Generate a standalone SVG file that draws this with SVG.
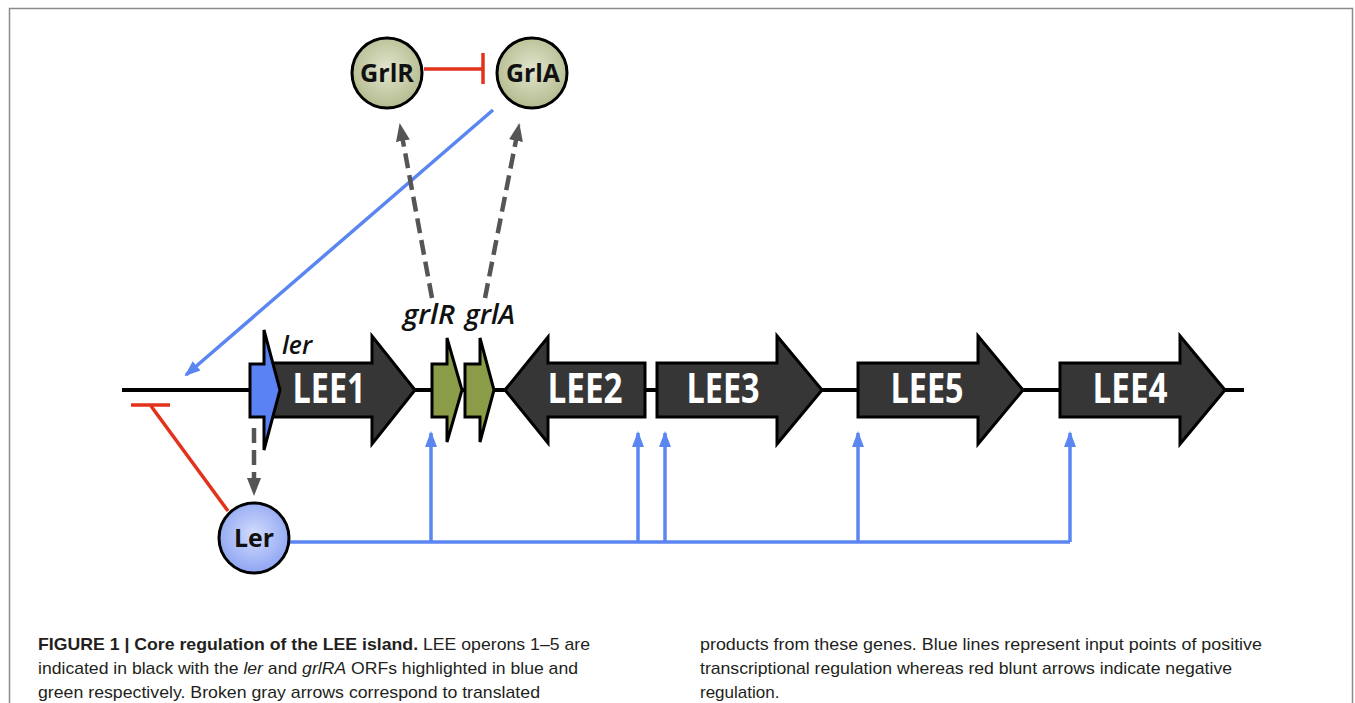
<svg xmlns="http://www.w3.org/2000/svg" width="1355" height="703" viewBox="0 0 1355 703">
<style>
.gene{stroke:#000;stroke-width:3;stroke-linejoin:miter}
.dark{fill:#363636}
.green{fill:#8a9c48}
.blueg{fill:#5b82f4}
.lbl{font-family:"Open Sans","Liberation Sans",sans-serif;font-weight:bold;fill:#fff;font-size:41px}
.ital{font-family:"Open Sans","Liberation Sans",sans-serif;font-weight:600;font-style:italic;fill:#111}
.ntxt{font-family:"Open Sans","Liberation Sans",sans-serif;font-weight:bold;fill:#111;font-size:25px}
.blue{stroke:#5b86f2;stroke-width:3.5;fill:none}
.red{stroke:#e2321c;stroke-width:3.5;fill:none}
.dash{stroke:#555;stroke-width:4.5;stroke-dasharray:15 7;fill:none}
.cap{font-family:"Liberation Sans",Arial,sans-serif;font-size:17px;fill:#231f20}
</style>
<defs>
<radialGradient id="gg" cx="50%" cy="45%" r="55%">
<stop offset="0" stop-color="#e2e5cf"/><stop offset="1" stop-color="#b4bb8e"/>
</radialGradient>
<radialGradient id="bg" cx="50%" cy="45%" r="55%">
<stop offset="0" stop-color="#d3dcfd"/><stop offset="1" stop-color="#8ea5f2"/>
</radialGradient>
<marker id="ab" markerUnits="userSpaceOnUse" markerWidth="16" markerHeight="16" refX="14" refY="8" orient="auto" viewBox="0 0 16 16">
<path d="M0,2 L16,8 L0,14 Z" fill="#5b86f2"/>
</marker>
<marker id="ag" markerUnits="userSpaceOnUse" markerWidth="18" markerHeight="18" refX="16" refY="9" orient="auto" viewBox="0 0 18 18">
<path d="M0,2 L18,9 L0,16 Z" fill="#555"/>
</marker>
</defs>
<rect x="9.5" y="8.5" width="1343" height="720" fill="#fff" stroke="#8a8a8a" stroke-width="1.5"/>

<g id="connectors">
<line x1="122" y1="390" x2="1244" y2="390" stroke="#000" stroke-width="4"/>
<line class="red" x1="424" y1="69" x2="483" y2="69"/>
<line class="red" x1="483" y1="53" x2="483" y2="84" stroke-width="4"/>
<line class="blue" x1="493" y1="110" x2="186" y2="375" marker-end="url(#ab)"/>
<line class="dash" x1="432" y1="298" x2="400" y2="125" marker-end="url(#ag)"/>
<line class="dash" x1="485" y1="298" x2="519" y2="125" marker-end="url(#ag)"/>
<line class="dash" x1="254" y1="428" x2="254" y2="494" marker-end="url(#ag)"/>
<line class="red" x1="228" y1="511" x2="151" y2="406"/>
<line class="red" x1="131" y1="405" x2="170" y2="405" stroke-width="4.5"/>
<polyline class="blue" points="290,542 1070,542"/>
<line class="blue" x1="431" y1="542" x2="431" y2="433" marker-end="url(#ab)"/>
<line class="blue" x1="638" y1="542" x2="638" y2="433" marker-end="url(#ab)"/>
<line class="blue" x1="665" y1="542" x2="665" y2="433" marker-end="url(#ab)"/>
<line class="blue" x1="858" y1="542" x2="858" y2="433" marker-end="url(#ab)"/>
<line class="blue" x1="1070" y1="542" x2="1070" y2="433" marker-end="url(#ab)"/>
</g>

<g id="lee1">
<polygon class="gene dark" points="266,363 372,363 372,336 415,390 372,444 372,417 266,417"/>
<text class="lbl" x="329" y="403" text-anchor="middle" textLength="73" lengthAdjust="spacingAndGlyphs">LEE1</text>
</g>
<g id="ler-gene">
<polygon class="gene blueg" points="250,364 264,364 264,330 280,390 264,450 264,417 250,417"/>
<text class="ital" x="282" y="354" font-size="26" textLength="30" lengthAdjust="spacingAndGlyphs">ler</text>
</g>
<g id="grlR-gene">
<polygon class="gene green" points="432,364 447,364 447,338 462,390 447,442 447,417 432,417"/>
<text class="ital" x="403" y="324" font-size="27" textLength="52" lengthAdjust="spacingAndGlyphs">grlR</text>
</g>
<g id="grlA-gene">
<polygon class="gene green" points="465,364 480,364 480,338 494,390 480,442 480,417 465,417"/>
<text class="ital" x="465" y="324" font-size="27" textLength="50" lengthAdjust="spacingAndGlyphs">grlA</text>
</g>
<g id="lee2">
<polygon class="gene dark" points="505,390 548,337 548,363 645,363 645,417 548,417 548,443"/>
<text class="lbl" x="585" y="403" text-anchor="middle" textLength="75" lengthAdjust="spacingAndGlyphs">LEE2</text>
</g>
<g id="lee3">
<polygon class="gene dark" points="657,363 777,363 777,336 822,390 777,444 777,417 657,417"/>
<text class="lbl" x="723" y="403" text-anchor="middle" textLength="73" lengthAdjust="spacingAndGlyphs">LEE3</text>
</g>
<g id="lee5">
<polygon class="gene dark" points="858,363 978,363 978,336 1023,390 978,444 978,417 858,417"/>
<text class="lbl" x="927" y="403" text-anchor="middle" textLength="73" lengthAdjust="spacingAndGlyphs">LEE5</text>
</g>
<g id="lee4">
<polygon class="gene dark" points="1060,363 1180,363 1180,336 1225,390 1180,444 1180,417 1060,417"/>
<text class="lbl" x="1130" y="403" text-anchor="middle" textLength="75" lengthAdjust="spacingAndGlyphs">LEE4</text>
</g>

<g id="GrlR">
<circle cx="387" cy="73" r="35" fill="url(#gg)" stroke="#000" stroke-width="3"/>
<text class="ntxt" x="387" y="82" text-anchor="middle" textLength="54" lengthAdjust="spacingAndGlyphs">GrlR</text>
</g>
<g id="GrlA">
<circle cx="532" cy="73" r="35" fill="url(#gg)" stroke="#000" stroke-width="3"/>
<text class="ntxt" x="533" y="82" text-anchor="middle" textLength="54" lengthAdjust="spacingAndGlyphs">GrlA</text>
</g>
<g id="Ler">
<circle cx="254" cy="538" r="35" fill="url(#bg)" stroke="#000" stroke-width="3"/>
<text class="ntxt" x="254" y="547" text-anchor="middle" textLength="40" lengthAdjust="spacingAndGlyphs">Ler</text>
</g>

<g id="caption">
<text class="cap" x="38" y="650" textLength="552" lengthAdjust="spacingAndGlyphs"><tspan font-weight="bold">FIGURE 1 | Core regulation of the LEE island.</tspan> LEE operons 1–5 are</text>
<text class="cap" x="38" y="674" textLength="540" lengthAdjust="spacingAndGlyphs">indicated in black with the <tspan font-style="italic">ler</tspan> and <tspan font-style="italic">grlRA</tspan> ORFs highlighted in blue and</text>
<text class="cap" x="38" y="698" textLength="502" lengthAdjust="spacingAndGlyphs">green respectively. Broken gray arrows correspond to translated</text>
<text class="cap" x="700" y="650" textLength="562" lengthAdjust="spacingAndGlyphs">products from these genes. Blue lines represent input points of positive</text>
<text class="cap" x="700" y="674" textLength="532" lengthAdjust="spacingAndGlyphs">transcriptional regulation whereas red blunt arrows indicate negative</text>
<text class="cap" x="700" y="698">regulation.</text>
</g>
</svg>
